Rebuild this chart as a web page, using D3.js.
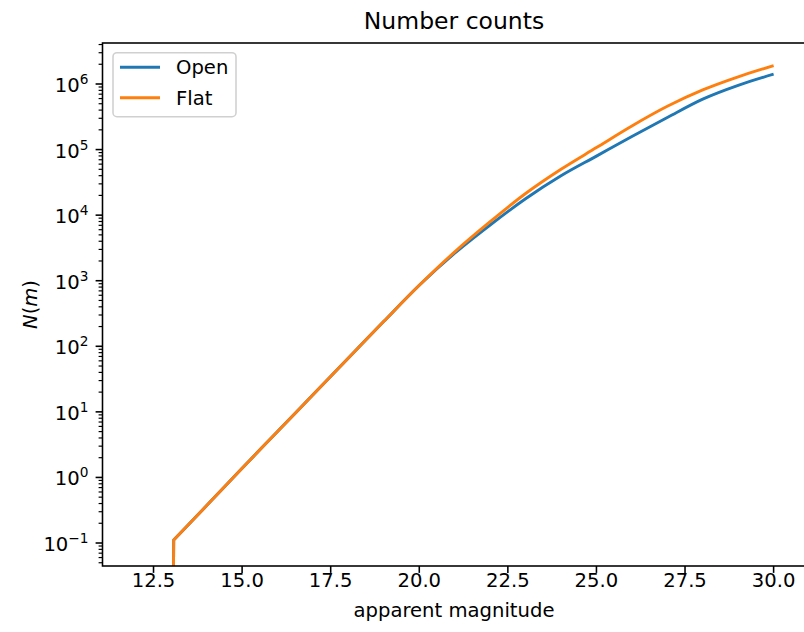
<!DOCTYPE html>
<html>
<head>
<meta charset="utf-8">
<script src="https://cdn.jsdelivr.net/npm/d3@7"></script>
<style>
  body { margin: 0; background: #fff; }
  svg { font-family: "DejaVu Sans", sans-serif; display: block; }
</style>
</head>
<body>
<script>
// apparent magnitude samples (0 = no counts, drawn below the axis)
const magnitudes = [13.06, 13.07, 14, 15, 16, 17, 18, 19, 20, 21, 22, 23, 24, 25, 26, 27, 28, 29, 30];
const openCounts = [0, 0.111, 0.372, 1.38, 5.01, 18.2, 66.1, 240, 851, 2630, 7079, 17780, 39810, 79430, 158500, 309000, 588800, 955000, 1413000];
const flatCounts = [0, 0.111, 0.372, 1.38, 5.01, 18.2, 66.1, 240, 851, 2754, 7943, 21380, 50120, 107200, 229100, 457100, 812800, 1288000, 1905000];
const xTicks = [12.5, 15.0, 17.5, 20.0, 22.5, 25.0, 27.5, 30.0];
const yTickExps = [-1, 0, 1, 2, 3, 4, 5, 6];

const series = [
  { name: 'Open', color: '#1f77b4', values: openCounts },
  { name: 'Flat', color: '#ff7f0e', values: flatCounts }
];

const svgWidth = 804;
const svgHeight = 632;
const margin = { top: 43, left: 102.5 };
const width = 703;
const height = 523;
const fs = 19.6;

const svg = d3.select('body')
  .append('svg')
  .attr('width', svgWidth)
  .attr('height', svgHeight);

const g = svg.append('g')
  .attr('transform', `translate(${margin.left}, ${margin.top})`);

const xScale = d3.scaleLinear().domain([11.06, 30.9]).range([0, width]);
const yScale = d3.scaleLog().domain([0.0446, 4.22e6]).range([height, 0]);

g.append('clipPath').attr('id', 'plot')
  .append('rect').attr('width', width).attr('height', height);

// lines: a straight drop where counts start, then a smooth curve
const dropLine = d3.line()
  .x(d => xScale(d[0]))
  .y(d => d[1] > 0 ? yScale(d[1]) : height + 20);
const line = d3.line()
  .x(d => xScale(d[0]))
  .y(d => yScale(d[1]))
  .curve(d3.curveMonotoneX);

series.forEach(s => {
  const pts = magnitudes.map((m, i) => [m, s.values[i]]);
  const first = pts.findIndex(p => p[1] > 0);
  const p = d3.path();
  g.append('path')
    .attr('clip-path', 'url(#plot)')
    .attr('fill', 'none')
    .attr('stroke', s.color)
    .attr('stroke-width', 2.9)
    .attr('stroke-linejoin', 'round')
    .attr('d', dropLine(pts.slice(0, first + 1)) + line(pts.slice(first)).replace(/^M/, 'L'));
});

// x axis ticks
const xg = g.append('g').attr('transform', `translate(0, ${height})`);
xTicks.forEach(t => {
  const x = xScale(t);
  xg.append('line').attr('x1', x).attr('x2', x).attr('y1', 0).attr('y2', 6.9)
    .attr('stroke', '#000').attr('stroke-width', 1.57);
  xg.append('text').attr('x', x).attr('y', 20.5).attr('text-anchor', 'middle')
    .attr('font-size', fs).attr('fill', '#000').text(t.toFixed(1));
});

// y axis ticks (log, with minor ticks)
const yg = g.append('g');
for (let e = -2; e <= 6; e++) {
  for (let k = 1; k <= 9; k++) {
    const v = k * Math.pow(10, e);
    if (v < yScale.domain()[0] || v > yScale.domain()[1]) continue;
    const y = yScale(v);
    const len = k === 1 ? 6.9 : 3.9;
    yg.append('line').attr('x1', -len).attr('x2', 0).attr('y1', y).attr('y2', y)
      .attr('stroke', '#000').attr('stroke-width', k === 1 ? 1.57 : 1.18);
  }
}
yTickExps.forEach(e => {
  const y = yScale(Math.pow(10, e));
  const t = yg.append('text').attr('x', -14).attr('y', y + 8).attr('text-anchor', 'end')
    .attr('font-size', fs).attr('fill', '#000');
  t.append('tspan').text('10');
  t.append('tspan').attr('dy', -8).attr('font-size', 13.7).text(e < 0 ? '\u2212' + Math.abs(e) : e);
});

// spines
g.append('rect').attr('width', width).attr('height', height)
  .attr('fill', 'none').attr('stroke', '#000').attr('stroke-width', 1.57);

// title and axis labels
svg.append('text').attr('x', margin.left + width / 2).attr('y', 29)
  .attr('text-anchor', 'middle').attr('font-size', 23.5).attr('fill', '#000')
  .text('Number counts');

svg.append('text').attr('x', margin.left + width / 2).attr('y', 617)
  .attr('text-anchor', 'middle').attr('font-size', fs).attr('fill', '#000')
  .text('apparent magnitude');

const yl = svg.append('text')
  .attr('transform', `translate(37, ${margin.top + height / 2}) rotate(-90)`)
  .attr('text-anchor', 'middle').attr('font-size', fs).attr('fill', '#000');
yl.append('tspan').attr('font-style', 'italic').text('N');
yl.append('tspan').text('(');
yl.append('tspan').attr('font-style', 'italic').text('m');
yl.append('tspan').text(')');

// legend
const lg = g.append('g').attr('transform', 'translate(10.5, 9.7)');
lg.append('rect').attr('width', 123).attr('height', 64).attr('rx', 4)
  .attr('fill', '#fff').attr('fill-opacity', 0.8)
  .attr('stroke', '#d0d0d0').attr('stroke-width', 1.57);
series.forEach((s, i) => {
  const y = 14.6 + i * 30.4;
  lg.append('line').attr('x1', 7).attr('x2', 47).attr('y1', y).attr('y2', y)
    .attr('stroke', s.color).attr('stroke-width', 2.9);
  lg.append('text').attr('x', 63).attr('y', y + 7).attr('font-size', fs)
    .attr('fill', '#000').text(s.name);
});
</script>
</body>
</html>
